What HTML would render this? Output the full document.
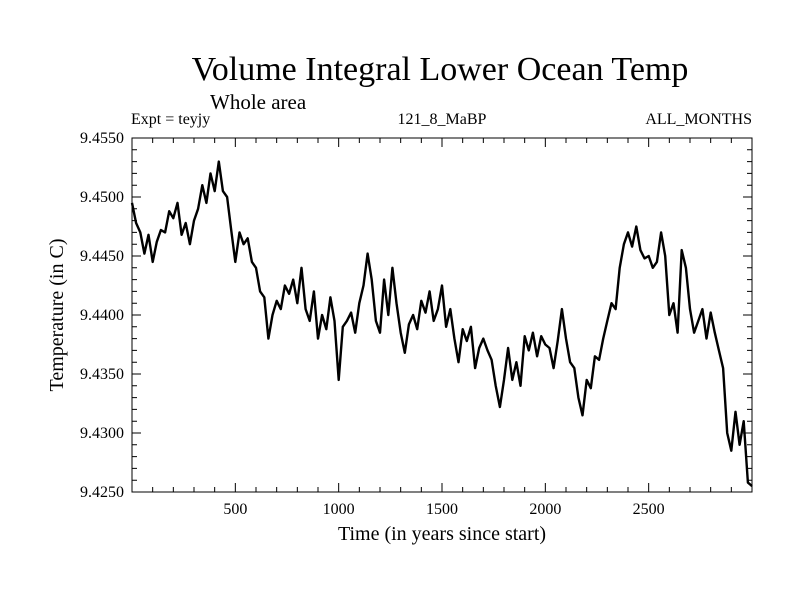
<!DOCTYPE html>
<html><head><meta charset="utf-8"><style>
body{margin:0;background:#fff;}
svg text{font-family:"Liberation Serif",serif;fill:#000;}
</style></head><body>
<svg id="chart" width="800" height="600" xmlns="http://www.w3.org/2000/svg">
<rect width="800" height="600" fill="#fff"/>
<text x="440" y="80" font-size="34" text-anchor="middle">Volume Integral Lower Ocean Temp</text>
<text x="210" y="109" font-size="21">Whole area</text>
<text x="131" y="124" font-size="16">Expt = teyjy</text>
<text x="442" y="124" font-size="16" text-anchor="middle">121_8_MaBP</text>
<text x="752" y="124" font-size="16" text-anchor="end">ALL_MONTHS</text>
<text x="442" y="540" font-size="20" text-anchor="middle">Time (in years since start)</text>
<text transform="translate(63,315) rotate(-90)" font-size="20" text-anchor="middle">Temperature (in C)</text>
<g id="axes"></g>
<g id="plot"></g>
</svg>
<script>
const years = [];
for (let i = 0; i <= 150; i++) years.push(i * 20);
const tempOffsets = [495,478,470,452,468,445,462,472,470,488,482,495,468,478,460,480,490,510,495,520,505,530,505,500,472,445,470,460,465,445,440,420,415,380,400,412,405,425,418,430,410,440,405,395,420,380,400,388,415,395,345,390,395,402,385,410,425,452,430,395,385,430,400,440,410,385,368,392,400,388,412,402,420,395,405,425,390,405,380,360,388,378,390,355,372,380,370,362,340,322,345,372,345,360,340,382,370,385,365,382,375,372,355,378,405,380,360,355,330,315,345,338,365,362,380,395,410,405,440,460,470,458,475,455,448,450,440,445,470,450,400,410,385,455,440,405,385,395,405,380,402,385,370,355,300,285,318,290,310,258,255];
const temps = tempOffsets.map(v => 9.4 + v / 10000);
const xTicks = [500,1000,1500,2000,2500];
const yTicks = [9.4250,9.4300,9.4350,9.4400,9.4450,9.4500,9.4550];

const X0=132, X1=752, Y0=492, Y1=138;
const xs = v => X0 + (v - 0) / 3000 * (X1 - X0);
const ys = v => Y0 - (v - 9.425) / 0.03 * (Y0 - Y1);
const NS = "http://www.w3.org/2000/svg";
const axes = document.getElementById('axes'), plot = document.getElementById('plot');
function mk(tag, attrs, parent){const e=document.createElementNS(NS,tag);for(const k in attrs)e.setAttribute(k,attrs[k]);parent.appendChild(e);return e;}

const frame = mk('rect',{x:X0,y:Y1,width:X1-X0,height:Y0-Y1,fill:'none',stroke:'#000','stroke-width':1},axes);



let d='';
for(let t=100;t<3000;t+=100){
  const x=xs(t), L=(t%500===0)?9:5;
  d+=`M${x} ${Y0}V${Y0-L}M${x} ${Y1}V${Y1+L}`;
}
for(let k=1;k<30;k++){
  const v=9.425+k*0.001, y=ys(v), L=(k%5===0)?9:5;
  d+=`M${X0} ${y}H${X0+L}M${X1} ${y}H${X1-L}`;
}
const tk = mk('path',{d:d,stroke:'#000','stroke-width':1,fill:'none'},axes);



xTicks.forEach(t=>{
  const e=mk('text',{x:xs(t),y:514,'font-size':16,'text-anchor':'middle'},axes);
  e.textContent=t;
  
  
});
yTicks.forEach(v=>{
  const e=mk('text',{x:124,y:ys(v)+5,'font-size':16,'text-anchor':'end'},axes);
  e.textContent=v.toFixed(4);
  
  
});

const pts = years.map((y,i)=>xs(y).toFixed(1)+','+ys(temps[i]).toFixed(1)).join(' ');
const line = mk('polyline',{points:pts,fill:'none',stroke:'#000','stroke-width':2.4,'stroke-linejoin':'round'},plot);


</script>
</body></html>
